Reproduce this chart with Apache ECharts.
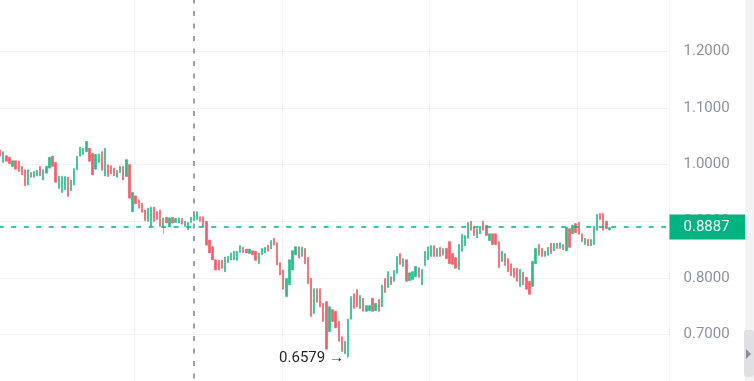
<!DOCTYPE html>
<html><head><meta charset="utf-8">
<script src="https://cdn.jsdelivr.net/npm/echarts@6/dist/echarts.min.js"></script>
<style>html,body{margin:0;padding:0;background:#fff}#c{width:754px;height:381px}</style>
</head><body><div id="c"></div>
<script>
// [open, close, low, high]
const ohlc = [
[1.026,1.015,1.015,1.026],[1.004,1.023,1.004,1.023],[1.016,1.006,1.006,1.016],[1.013,1.002,1.002,1.013],
[0.997,1.007,0.997,1.007],[1.007,0.992,0.992,1.007],[1.006,0.988,0.988,1.006],[0.997,0.982,0.982,0.997],
[0.991,0.963,0.963,0.991],[0.964,0.991,0.964,0.991],[0.986,0.978,0.978,0.986],[0.978,0.988,0.978,0.988],
[0.980,0.990,0.980,0.990],[0.997,0.980,0.980,0.997],[0.973,0.991,0.973,0.991],[0.985,0.997,0.985,0.997],
[0.994,1.013,0.994,1.013],[1.015,0.997,0.997,1.015],[1.004,0.969,0.969,1.004],[0.958,0.980,0.958,0.980],
[0.951,0.979,0.951,0.979],[0.956,0.979,0.956,0.979],[0.978,0.944,0.944,0.978],[0.954,0.973,0.954,0.973],
[0.964,0.993,0.964,0.993],[0.991,1.015,0.991,1.015],[1.015,1.031,1.015,1.031],[1.018,1.029,1.018,1.029],
[1.023,1.041,1.023,1.041],[1.029,1.006,1.006,1.029],[1.020,0.982,0.982,1.020],[0.992,1.018,0.992,1.018],
[1.004,1.019,1.004,1.019],[1.023,0.990,0.990,1.023],[0.980,1.029,0.980,1.029],[1.000,0.979,0.979,1.000],
[0.998,0.984,0.984,0.998],[0.994,0.980,0.980,0.994],[0.978,0.990,0.978,0.990],[0.986,0.997,0.986,0.997],
[0.997,0.973,0.973,0.997],[0.979,1.009,0.979,1.009],[1.000,0.941,0.941,1.000],[0.917,0.951,0.917,0.951],
[0.945,0.931,0.931,0.945],[0.938,0.923,0.923,0.938],[0.932,0.916,0.916,0.932],[0.920,0.901,0.901,0.920],
[0.900,0.923,0.900,0.923],[0.891,0.925,0.891,0.925],[0.925,0.900,0.900,0.925],[0.917,0.903,0.903,0.917],
[0.920,0.891,0.891,0.920],[0.891,0.906,0.878,0.906],[0.907,0.897,0.897,0.907],[0.890,0.906,0.890,0.906],
[0.907,0.897,0.897,0.907],[0.898,0.905,0.898,0.905],[0.897,0.906,0.897,0.906],[0.905,0.895,0.895,0.905],
[0.891,0.900,0.891,0.900],[0.885,0.898,0.885,0.898],[0.898,0.907,0.898,0.907],[0.901,0.912,0.901,0.912],
[0.903,0.917,0.903,0.917],[0.908,0.900,0.900,0.908],[0.908,0.891,0.891,0.908],[0.900,0.858,0.858,0.900],
[0.867,0.844,0.844,0.867],[0.855,0.832,0.832,0.855],[0.832,0.814,0.814,0.832],[0.831,0.814,0.814,0.831],
[0.831,0.817,0.817,0.831],[0.811,0.837,0.811,0.837],[0.827,0.838,0.827,0.838],[0.832,0.844,0.832,0.844],
[0.832,0.847,0.832,0.847],[0.831,0.847,0.831,0.847],[0.845,0.857,0.845,0.857],[0.854,0.845,0.845,0.854],
[0.851,0.844,0.844,0.851],[0.843,0.851,0.843,0.851],[0.848,0.841,0.841,0.848],[0.847,0.831,0.831,0.847],
[0.825,0.844,0.825,0.844],[0.841,0.852,0.841,0.852],[0.844,0.854,0.844,0.854],[0.858,0.847,0.847,0.858],
[0.851,0.866,0.851,0.866],[0.870,0.858,0.858,0.870],[0.862,0.823,0.823,0.862],[0.827,0.805,0.805,0.827],
[0.814,0.780,0.780,0.814],[0.767,0.799,0.767,0.799],[0.788,0.832,0.788,0.832],[0.814,0.848,0.814,0.848],
[0.841,0.855,0.841,0.855],[0.855,0.835,0.835,0.855],[0.838,0.854,0.838,0.854],[0.852,0.825,0.825,0.852],
[0.836,0.790,0.790,0.836],[0.799,0.732,0.732,0.799],[0.737,0.781,0.737,0.781],[0.781,0.757,0.757,0.781],
[0.781,0.749,0.749,0.781],[0.755,0.723,0.723,0.755],[0.758,0.674,0.674,0.758],[0.705,0.749,0.705,0.749],
[0.744,0.723,0.723,0.744],[0.741,0.712,0.712,0.741],[0.723,0.688,0.688,0.723],[0.696,0.670,0.670,0.696],
[0.666,0.688,0.666,0.688],[0.661,0.727,0.6579,0.727],[0.727,0.767,0.727,0.767],[0.772,0.746,0.746,0.772],
[0.779,0.749,0.749,0.779],[0.746,0.769,0.746,0.769],[0.764,0.741,0.741,0.764],[0.741,0.751,0.741,0.751],
[0.742,0.751,0.742,0.751],[0.764,0.741,0.741,0.764],[0.742,0.755,0.742,0.755],[0.762,0.741,0.741,0.762],
[0.749,0.787,0.749,0.787],[0.799,0.774,0.774,0.799],[0.783,0.811,0.783,0.811],[0.802,0.788,0.788,0.802],
[0.794,0.813,0.794,0.813],[0.808,0.838,0.808,0.838],[0.843,0.824,0.824,0.843],[0.820,0.834,0.820,0.834],
[0.832,0.794,0.794,0.832],[0.795,0.809,0.795,0.809],[0.797,0.811,0.797,0.811],[0.802,0.820,0.802,0.820],
[0.818,0.801,0.801,0.818],[0.788,0.815,0.788,0.815],[0.822,0.847,0.822,0.847],[0.832,0.855,0.832,0.855],
[0.838,0.857,0.838,0.857],[0.857,0.838,0.838,0.857],[0.838,0.852,0.838,0.852],[0.854,0.838,0.838,0.854],
[0.840,0.852,0.840,0.852],[0.852,0.834,0.834,0.852],[0.864,0.825,0.825,0.864],[0.843,0.824,0.824,0.843],
[0.836,0.817,0.817,0.836],[0.815,0.859,0.815,0.859],[0.847,0.877,0.847,0.877],[0.857,0.875,0.857,0.875],
[0.870,0.898,0.870,0.898],[0.900,0.884,0.884,0.900],[0.891,0.875,0.875,0.891],[0.871,0.887,0.871,0.887],
[0.878,0.891,0.878,0.891],[0.900,0.884,0.884,0.900],[0.893,0.875,0.875,0.893],[0.866,0.878,0.866,0.878],
[0.878,0.859,0.859,0.878],[0.878,0.859,0.859,0.878],[0.864,0.818,0.818,0.864],[0.829,0.847,0.829,0.847],
[0.843,0.822,0.822,0.843],[0.834,0.811,0.811,0.834],[0.825,0.804,0.804,0.825],[0.817,0.801,0.801,0.817],
[0.817,0.794,0.794,0.817],[0.785,0.815,0.785,0.815],[0.810,0.788,0.788,0.810],[0.801,0.780,0.780,0.801],
[0.794,0.771,0.771,0.794],[0.785,0.829,0.785,0.829],[0.825,0.852,0.825,0.852],[0.859,0.840,0.840,0.859],
[0.852,0.838,0.838,0.852],[0.838,0.847,0.838,0.847],[0.840,0.854,0.840,0.854],[0.861,0.843,0.843,0.861],
[0.848,0.861,0.848,0.861],[0.861,0.852,0.852,0.861],[0.852,0.862,0.852,0.862],[0.859,0.850,0.850,0.859],
[0.848,0.889,0.848,0.889],[0.887,0.854,0.854,0.887],[0.878,0.893,0.878,0.893],[0.896,0.880,0.880,0.896],
[0.898,0.877,0.877,0.898],[0.878,0.864,0.864,0.878],[0.859,0.870,0.859,0.870],[0.868,0.857,0.857,0.868],
[0.857,0.868,0.857,0.868],[0.859,0.891,0.859,0.891],[0.884,0.912,0.884,0.912],[0.914,0.903,0.903,0.914],
[0.914,0.884,0.884,0.914],[0.900,0.887,0.887,0.900],[0.885,0.8887,0.884,0.890]
];
const slotCount = 218;               // visible bar slots (incl. empty space on the right)
const categories = Array.from({length: slotCount}, (_, i) => String(i));
const lastPrice = 0.8887;
const lowPrice = 0.6579;
const lowIndex = 113;
const crosshairIndex = 63;
const yTicks = [0.6, 1.3, 0.1]; // min, max, interval

const UP = '#26bd8b', DOWN = '#f45d69', MARK = '#00b482';

const chart = echarts.init(document.getElementById('c'), null, {renderer: 'canvas'});
chart.setOption({
  animation: false,
  backgroundColor: '#ffffff',
  grid: {left: -1.3, right: 84.5, top: -5.1, bottom: -10.1, containLabel: false, outerBoundsMode: 'none'},
  xAxis: {
    type: 'category', data: categories, boundaryGap: true,
    axisLine: {show: false}, axisTick: {show: false}, axisLabel: {show: false},
    splitLine: {show: true, interval: (i) => i % 48 === 44, lineStyle: {color: '#f1f2f4', width: 1}}
  },
  yAxis: {
    type: 'value', position: 'right', min: yTicks[0], max: yTicks[1], interval: yTicks[2],
    axisLine: {show: true, lineStyle: {color: '#f1f2f4'}}, axisTick: {show: false},
    axisLabel: {margin: 14, color: '#8b939f', fontSize: 15, fontFamily: 'Roboto',
      showMinLabel: false, showMaxLabel: false, formatter: v => v.toFixed(4)},
    splitLine: {show: true, lineStyle: {color: '#f1f2f4', width: 1}}
  },
  series: [{
    type: 'candlestick', data: ohlc, barWidth: 1.8,
    itemStyle: {color: UP, color0: DOWN, borderColor: UP, borderColor0: DOWN, borderWidth: 0.7},
    markLine: {
      silent: true, symbol: ['none', 'none'], animation: false,
      data: [
        {yAxis: lastPrice,
         lineStyle: {color: MARK, type: [5, 7.5], width: 1.6},
         label: {show: true, position: 'end', distance: 0, formatter: lastPrice.toFixed(4),
           backgroundColor: MARK, color: '#ffffff', fontSize: 15, fontFamily: 'Roboto',
           padding: [5, 16, 5, 14], lineHeight: 15}},
        {xAxis: crosshairIndex,
         lineStyle: {color: '#8f98a4', type: [5, 7.5], width: 1.8},
         label: {show: false}}
      ]
    },
    markPoint: {
      silent: true, animation: false,
      data: [{coord: [lowIndex, lowPrice], symbol: 'circle', symbolSize: 0,
        label: {show: true, position: 'left', distance: 4, formatter: lowPrice.toFixed(4) + ' →',
          color: '#1f2329', fontSize: 15, fontFamily: 'Roboto'}}]
    }
  }],
  graphic: [
    {type: 'rect', left: 745, top: 0, shape: {width: 9, height: 381}, style: {fill: '#f3f3f5'}, z: 10},
    {type: 'rect', left: 744, top: 330, shape: {width: 10, height: 47, r: 3}, style: {fill: '#dfe0e4'}, z: 11},
    {type: 'polygon', shape: {points: [[746, 349], [746, 359], [751, 354]]}, style: {fill: '#8a8f98'}, z: 12}
  ]
});
</script></body></html>
